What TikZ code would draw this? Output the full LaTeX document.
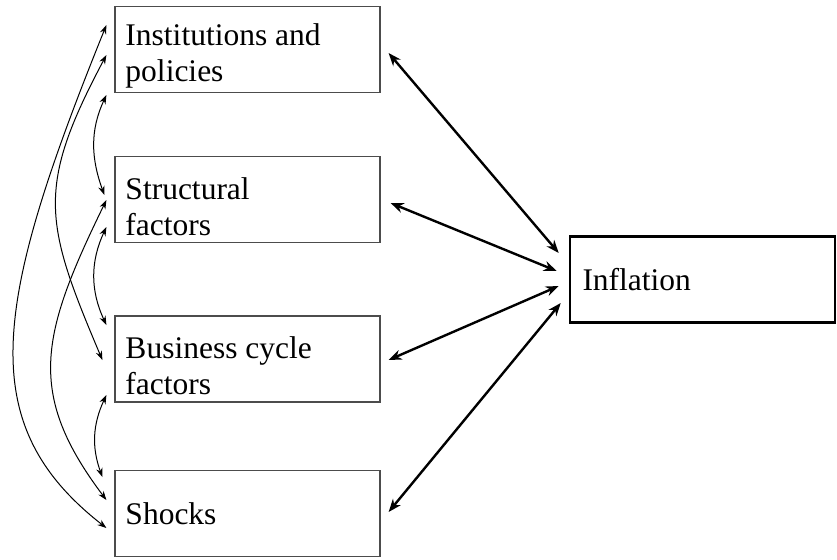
\documentclass[tikz,border=0pt]{standalone}
\usepackage{fontspec}
\setmainfont{Liberation Serif}
\usetikzlibrary{arrows.meta}

\begin{document}
\begin{tikzpicture}[x=0.5pt, y=-0.5pt,
                    factor/.style={draw=black!70, line width=0.6pt, minimum width=132.5pt,
                                   minimum height=43pt, inner xsep=5pt, text width=122pt,
                                   align=flush left, font=\fontsize{15.75}{18}\selectfont},
                    twoline/.style={factor, inner ysep=0pt, execute at begin node={\rule{0pt}{17.8pt}}},
                    target/.style={factor, draw=black, line width=1.25pt, inner xsep=6pt, text width=120pt},
                    link/.style={line width=0.5pt, {Stealth[length=4.5pt,width=3.2pt]}-{Stealth[length=4.5pt,width=3.2pt]}},
                    effect/.style={line width=1.2pt, {Stealth[length=6.5pt,width=5pt]}-{Stealth[length=6.5pt,width=5pt]}}]
                \useasboundingbox (0,0) rectangle (837,559);

                \node [twoline] (inst)   at (247.5,49.5)  {Institutions and\\policies};
                \node [twoline] (struct) at (247.5,199.5) {Structural\\factors};
                \node [twoline] (cycle)  at (247.5,359)   {Business cycle\\factors};
                \node [factor]  (shock)  at (247.5,513.5) {Shocks};
                \node [target]  (infl)   at (702.5,279.5) {Inflation};

                \draw [effect] ([xshift=4pt,yshift=-1.75pt]inst.east)   -- ([xshift=-5pt,yshift=13.25pt]infl.west);
                \draw [effect] ([xshift=5pt,yshift=-1.75pt]struct.east) -- ([xshift=-6pt,yshift=4.25pt]infl.west);
                \draw [effect] ([xshift=4pt,yshift=-0.5pt]cycle.east)   -- ([xshift=-5pt,yshift=-3.25pt]infl.west);
                \draw [effect] ([xshift=4pt,yshift=0.75pt]shock.east)   -- ([xshift=-4pt,yshift=-11.75pt]infl.west);

                \draw [link] ([xshift=-4pt,yshift=12.25pt]inst.west)
                    to [out=248, in=142, out distance=150pt, in distance=85pt] ([xshift=-4pt,yshift=-7.25pt]shock.west);
                \draw [link] ([xshift=-4pt,yshift=-2.75pt]inst.west)
                    to [out=242, in=113, out distance=75pt, in distance=75pt] ([xshift=-6pt,yshift=-0.5pt]cycle.west);
                \draw [link] ([xshift=-4pt,yshift=-0.25pt]struct.west)
                    to [out=244, in=127, out distance=75pt, in distance=67pt] ([xshift=-4pt,yshift=6.75pt]shock.west);

                \draw [link] ([xshift=-4pt,yshift=-22.75pt]inst.west)
                    to [out=245, in=110] ([xshift=-5pt,yshift=2.25pt]struct.west);
                \draw [link] ([xshift=-4pt,yshift=-13.75pt]struct.west)
                    to [out=245, in=115] ([xshift=-4pt,yshift=17pt]cycle.west);
                \draw [link] ([xshift=-4pt,yshift=-18pt]cycle.west)
                    to [out=245, in=110] ([xshift=-6pt,yshift=18.25pt]shock.west);
            \end{tikzpicture}
\end{document}
